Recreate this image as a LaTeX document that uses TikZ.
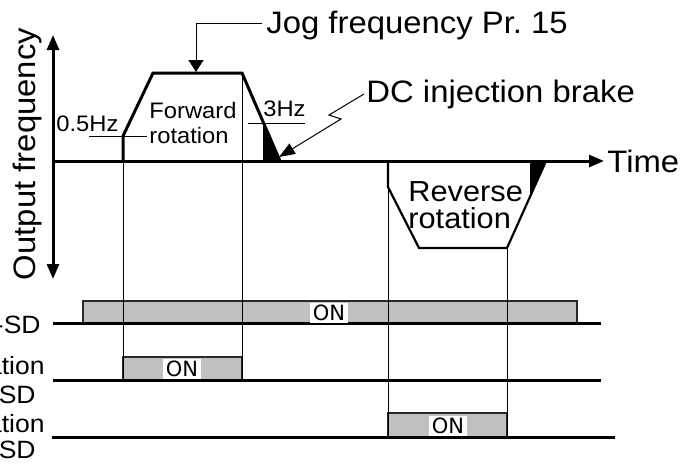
\documentclass[tikz,border=0pt]{standalone}
\usepackage{fontspec}
\setmainfont[FakeStretch=1.06]{Liberation Sans}
\newfontfamily\onfont{DejaVu Sans}
\usetikzlibrary{positioning, arrows.meta}
\definecolor{oncol}{RGB}{192, 192, 192}
\definecolor{edgecol}{RGB}{40, 40, 40}
\tikzset{
  axis/.style={line width=1.5pt},
  tip/.style={-{Triangle[length=7.5pt, width=6pt]}},
  wave/.style={line width=1.5pt, line join=miter},
  revwave/.style={line width=1.1pt, line join=miter},
  guide/.style={line width=0.5pt},
  sigline/.style={line width=1.5pt},
  onbox/.style={draw=edgecol, line width=1pt, fill=oncol},
  onlbl/.style={fill=white, inner xsep=1.5pt, inner ysep=1pt, font=\onfont\fontsize{10.5}{11}\selectfont},
  bigtxt/.style={inner sep=0pt, font=\fontsize{15.5}{17}\selectfont},
  smalltxt/.style={inner sep=0pt, font=\fontsize{11.2}{12.5}\selectfont},
  revtxt/.style={inner sep=0pt, align=left, font=\fontsize{14.5}{13.5}\selectfont},
  sigtxt/.style={inner sep=0pt, anchor=base east, font=\fontsize{12.5}{14}\selectfont},
}

\begin{document}
\begin{tikzpicture}[x=0.5pt, y=-0.5pt]
  \useasboundingbox (0,0) rectangle (685,463);

  \coordinate (orig) at (53,161);
  \coordinate (ftop) at (53,35);
  \coordinate (fbot) at (53,279);
  \coordinate (tend) at (604,161);
  \draw[axis, {Triangle[length=7.5pt, width=6pt]}-{Triangle[length=7.5pt, width=6pt]}] (fbot) -- (ftop);
  \draw[axis, tip] (orig) -- (tend);
  \node[bigtxt, right=1.5pt of tend] (time) {Time};
  \node[bigtxt, rotate=90, anchor=base] (ylbl) at (35,154) {Output frequency};

  \draw[onbox] (83,323) rectangle (577,301);
  \draw[onbox] (123,380) rectangle (242,357);
  \draw[onbox] (388,437) rectangle (507,413);
  \draw[sigline] (53,323) -- (601,323);
  \draw[sigline] (53,380) -- (601,380);
  \draw[sigline] (52,437) -- (615,437);

  \draw[guide] (123,161) -- (123,380);
  \draw[guide] (242,73) -- (242,380);
  \draw[guide] (388,187) -- (388,437);
  \draw[guide] (507,248) -- (507,437);

  \draw[wave] (123,161) -- (123,136) -- (153,73) -- (242,73) -- (280,161);
  \fill (263,123) -- (263,161) -- (280,161) -- cycle;
  \draw[revwave] (388,161) -- (388,187) -- (419,248) -- (507,248) -- (546,161);
  \fill (530,161) -- (546,161) -- (530,197) -- cycle;

  \draw[guide] (89,136) -- (147,136);
  \draw[guide] (248,123) -- (305,123);
  \node[smalltxt, anchor=base west] (lo) at (56,131) {0.5Hz};
  \node[smalltxt, anchor=base west] (hi) at (263,116) {3Hz};
  \node[smalltxt, align=left, anchor=north west] (fwd) at (149,102) {Forward\\rotation};
  \node[revtxt, anchor=north west] (rev) at (408,181) {Reverse\\rotation};

  \node[bigtxt, anchor=base west] (jog) at (266,33) {Jog frequency Pr.~15};
  \coordinate (jogtip) at (196,72);
  \draw[guide, -{Triangle[length=6pt, width=7.5pt]}] ([xshift=-2pt, yshift=1pt]jog.west) -| (jogtip);

  \node[bigtxt, anchor=base west] (dc) at (366,102) {DC injection brake};
  \coordinate (brktip) at (279,157);
  \draw[guide, -{Triangle[length=8pt, width=6pt]}] ([xshift=-1pt]dc.west) -- ++(-35,21) -- ++(12,4) -- (brktip);

  \node[onlbl] (on1) at (329,313) {ON};
  \node[onlbl] (on2) at (182,369) {ON};
  \node[onlbl] (on3) at (448,426) {ON};

  \node[sigtxt] (jogsd) at (41,333) {JOG-SD};
  \node[sigtxt] (fwdname) at (45,374) {Forward rotation};
  \node[sigtxt] (stfsd) at (36,403) {STF-SD};
  \node[sigtxt] (revname) at (45,432) {Reverse rotation};
  \node[sigtxt] (strsd) at (36,458) {STR-SD};
\end{tikzpicture}
\end{document}
